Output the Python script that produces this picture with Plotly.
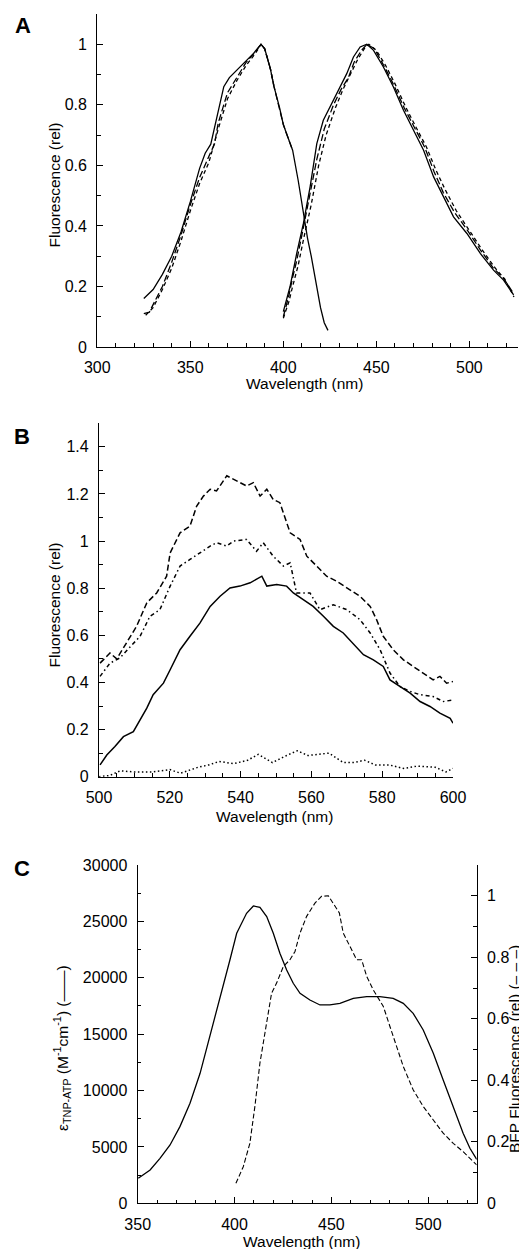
import plotly.graph_objects as go

# ---------------- Panel A data ----------------
a_ex_solid_x = [325, 330, 335, 340, 345, 350, 355, 358, 361, 365, 368, 371, 375, 380, 384, 388, 390, 393, 395, 398, 400, 402, 405, 408, 410, 413, 415, 418, 420, 422, 424]
a_ex_solid_y = [0.16, 0.19, 0.24, 0.30, 0.38, 0.48, 0.59, 0.64, 0.67, 0.78, 0.86, 0.89, 0.915, 0.945, 0.97, 1.0, 0.985, 0.92, 0.86, 0.79, 0.735, 0.70, 0.65, 0.55, 0.47, 0.36, 0.30, 0.19, 0.13, 0.08, 0.055]
a_ex_dash1_x = [325, 328, 330, 335, 340, 345, 350, 355, 360, 363, 365, 370, 375, 380, 385, 388, 390, 393, 395, 398, 400, 402, 405]
a_ex_dash1_y = [0.11, 0.115, 0.14, 0.20, 0.28, 0.37, 0.47, 0.56, 0.63, 0.67, 0.74, 0.84, 0.89, 0.94, 0.975, 1.0, 0.985, 0.92, 0.86, 0.79, 0.735, 0.70, 0.65]
a_ex_dash2_x = [326, 330, 335, 340, 345, 350, 355, 360, 365, 370, 375, 380, 385, 388, 390, 393, 395]
a_ex_dash2_y = [0.105, 0.13, 0.19, 0.26, 0.35, 0.45, 0.54, 0.61, 0.72, 0.82, 0.88, 0.93, 0.97, 1.0, 0.985, 0.92, 0.86]

a_em_solid_x = [400, 403.6, 407.2, 410.8, 414.4, 418, 421.5, 426.9, 430.5, 434.1, 437.7, 441.3, 444.9, 448.5, 453.8, 459.2, 464.6, 470, 475.4, 480.8, 486.1, 491.5, 498.7, 505.9, 513, 518.4, 523.8]
a_em_solid_y = [0.117, 0.199, 0.309, 0.408, 0.529, 0.672, 0.749, 0.815, 0.859, 0.903, 0.958, 0.991, 1.0, 0.98, 0.925, 0.859, 0.782, 0.716, 0.65, 0.562, 0.496, 0.43, 0.375, 0.309, 0.254, 0.221, 0.172]
a_em_dash1_x = [400, 403, 405, 407, 410, 414, 418, 422, 427, 431, 435, 438, 442, 445, 449, 454, 459, 465, 470, 476, 481, 486, 492, 499, 506, 513, 518, 524]
a_em_dash1_y = [0.10, 0.17, 0.23, 0.28, 0.37, 0.49, 0.62, 0.72, 0.80, 0.85, 0.89, 0.94, 0.98, 1.0, 0.985, 0.93, 0.87, 0.79, 0.73, 0.66, 0.58, 0.51, 0.445, 0.385, 0.32, 0.26, 0.23, 0.175]
a_em_dash2_x = [400, 403, 405, 408, 411, 415, 419, 423, 428, 432, 436, 440, 444, 446, 450, 455, 460, 466, 471, 477, 482, 487, 493, 500, 507, 514, 519, 524]
a_em_dash2_y = [0.095, 0.15, 0.20, 0.27, 0.36, 0.47, 0.60, 0.70, 0.79, 0.85, 0.90, 0.95, 0.99, 1.0, 0.98, 0.93, 0.87, 0.79, 0.73, 0.66, 0.585, 0.52, 0.45, 0.385, 0.32, 0.26, 0.225, 0.165]

# ---------------- Panel B data ----------------
b_solid_x = [500.3, 502.2, 504.5, 506.9, 509.7, 511.6, 513.5, 515.3, 518.2, 520.1, 522.9, 525.7, 528.5, 531.4, 534.2, 537, 539.8, 542.7, 546, 547.4, 550.2, 553, 554.9, 557.7, 560.5, 563.4, 566.2, 569, 571.8, 574.7, 577.5, 580.3, 582.2, 585, 587.9, 590.7, 593.5, 596.3, 599.2, 600]
b_solid_y = [0.05, 0.092, 0.128, 0.17, 0.191, 0.241, 0.291, 0.348, 0.397, 0.454, 0.539, 0.596, 0.652, 0.723, 0.766, 0.801, 0.809, 0.823, 0.851, 0.809, 0.816, 0.809, 0.78, 0.752, 0.723, 0.681, 0.638, 0.61, 0.567, 0.518, 0.496, 0.468, 0.411, 0.383, 0.355, 0.319, 0.298, 0.27, 0.248, 0.227]
b_dash_x = [500.3, 503.1, 505, 507.8, 510.6, 513.5, 516.3, 519.1, 520.1, 522.9, 525.7, 527.6, 529.5, 531.4, 533.2, 536.1, 538.9, 541.7, 543.6, 545.5, 547.4, 549.2, 551.1, 554, 556.8, 558.7, 561.5, 564.3, 567.1, 570.9, 573.7, 576.6, 578.4, 580.3, 583.1, 586, 588.8, 591.6, 594.4, 596.3, 598.2, 600]
b_dash_y = [0.482, 0.525, 0.50, 0.567, 0.638, 0.738, 0.78, 0.851, 0.95, 1.035, 1.064, 1.149, 1.191, 1.22, 1.213, 1.277, 1.255, 1.234, 1.248, 1.191, 1.22, 1.177, 1.163, 1.035, 1.007, 0.936, 0.894, 0.851, 0.83, 0.794, 0.766, 0.723, 0.667, 0.596, 0.539, 0.496, 0.468, 0.44, 0.411, 0.426, 0.397, 0.404]
b_dashdot_x = [500.3, 503.1, 505.9, 508.8, 511.6, 514.4, 517.2, 520.1, 522.9, 525.7, 528.5, 531.4, 533.2, 536.1, 538, 541.7, 544.5, 546.4, 549.2, 552.1, 554, 555.8, 559.6, 562.4, 566.2, 570, 573.7, 576.6, 579.4, 582.2, 585, 587.9, 590.7, 594.4, 597.3, 600]
b_dashdot_y = [0.426, 0.482, 0.504, 0.553, 0.596, 0.681, 0.709, 0.809, 0.894, 0.922, 0.95, 0.979, 0.993, 0.979, 1.0, 1.007, 0.957, 0.993, 0.936, 0.894, 0.908, 0.78, 0.78, 0.709, 0.73, 0.709, 0.667, 0.61, 0.539, 0.44, 0.383, 0.362, 0.348, 0.34, 0.319, 0.326]
b_dot_x = [500, 503, 506, 510, 515, 520, 523, 528, 531, 534, 538, 542, 545, 549, 553, 556, 559, 562, 565, 569, 572, 575, 578, 582, 586, 590, 595, 598, 600]
b_dot_y = [0.0, 0.005, 0.025, 0.02, 0.02, 0.03, 0.015, 0.04, 0.05, 0.065, 0.055, 0.07, 0.095, 0.06, 0.09, 0.11, 0.09, 0.095, 0.1, 0.06, 0.06, 0.07, 0.05, 0.05, 0.035, 0.045, 0.04, 0.02, 0.035]

# ---------------- Panel C data ----------------
c_abs_x = [350.3, 356.4, 361.5, 366.7, 371.8, 377, 382.2, 387.3, 392.5, 397.6, 401.1, 406.2, 409.7, 413.1, 416.6, 420, 423.4, 426.9, 430.3, 433.8, 438.9, 444.1, 449.2, 454.4, 461.3, 468.2, 475, 481.9, 487.1, 492.2, 497.4, 502.6, 507.7, 512.9, 518, 521.5, 525]
c_abs_y = [2217, 2956, 3990, 5173, 6799, 8868, 11528, 14780, 18327, 21579, 23944, 25717, 26368, 26250, 25422, 23944, 22170, 20692, 19510, 18623, 18032, 17588, 17588, 17736, 18179, 18327, 18327, 18179, 17736, 16849, 15371, 13302, 10937, 8572, 6208, 4877, 3900]
c_fl_x = [400.7, 404.5, 407.9, 410.5, 413.1, 416.6, 419.1, 421.7, 425.2, 428.6, 431.2, 433.8, 437.2, 441.5, 444.9, 448.4, 451, 454.1, 456.1, 459.6, 463, 465.6, 468.2, 471.6, 476.8, 480.2, 483.6, 487.1, 492.2, 497.4, 502.6, 507.7, 512.9, 518, 523.2, 525]
c_fl_y = [0.065, 0.119, 0.195, 0.315, 0.456, 0.597, 0.683, 0.716, 0.77, 0.792, 0.819, 0.879, 0.933, 0.976, 0.998, 1.0, 0.976, 0.944, 0.879, 0.835, 0.792, 0.792, 0.738, 0.694, 0.64, 0.575, 0.51, 0.445, 0.369, 0.315, 0.271, 0.228, 0.195, 0.168, 0.136, 0.125]

# ---------------- layout helpers ----------------
W, H = 519, 1249
FONT = "Liberation Sans, Arial, Helvetica, sans-serif"
TICK_SIZE = 16
TITLE_SIZE = 15.5


def px_x(p):
    return p / W


def px_y(p):
    return 1 - p / H


def dom_x(l, r):
    return [px_x(l), px_x(r)]


def dom_y(top, bottom):
    return [px_y(bottom), px_y(top)]


fig = go.Figure()
BLACK = "black"

def add(x, y, xa, ya, dash="solid", width=1.3):
    fig.add_trace(go.Scatter(x=x, y=y, mode="lines", xaxis=xa, yaxis=ya,
                             line=dict(color=BLACK, width=width, dash=dash),
                             showlegend=False, hoverinfo="skip"))

# Panel A
add(a_ex_solid_x, a_ex_solid_y, "x", "y")
add(a_ex_dash1_x, a_ex_dash1_y, "x", "y", "7px,3px")
add(a_ex_dash2_x, a_ex_dash2_y, "x", "y", "4px,3px")
add(a_em_solid_x, a_em_solid_y, "x", "y")
add(a_em_dash1_x, a_em_dash1_y, "x", "y", "7px,3px")
add(a_em_dash2_x, a_em_dash2_y, "x", "y", "4px,3px")

# Panel B
add(b_dash_x, b_dash_y, "x2", "y2", "6px,3px", 1.5)
add(b_dashdot_x, b_dashdot_y, "x2", "y2", "4px,3px,1.5px,3px", 1.5)
add(b_solid_x, b_solid_y, "x2", "y2", "solid", 1.5)
add(b_dot_x, b_dot_y, "x2", "y2", "1.5px,2.5px", 1.5)

# Panel C
add(c_abs_x, c_abs_y, "x3", "y3", "solid", 1.3)
add(c_fl_x, c_fl_y, "x3", "y4", "5px,2.5px", 1.1)

tickfont = dict(family=FONT, size=TICK_SIZE, color=BLACK)


def axis(domain, rng, dtick, minor_dtick, anchor, tick0=None, side=None, fmt=None, overlaying=None):
    d = dict(domain=domain, range=rng, dtick=dtick, tick0=tick0 if tick0 is not None else rng[0],
             ticks="inside", ticklen=6, tickwidth=1.2, tickcolor=BLACK,
             showline=True, linecolor=BLACK, linewidth=1.3, showgrid=False, zeroline=False,
             tickfont=tickfont, anchor=anchor, automargin=False,
             minor=dict(ticks="inside", ticklen=3.5, dtick=minor_dtick, tickwidth=1.2,
                        tickcolor=BLACK, showgrid=False),
             ticklabelstandoff=6, fixedrange=True)
    if side:
        d["side"] = side
    if fmt:
        d["tickformat"] = fmt
    if overlaying:
        d["overlaying"] = overlaying
    return d


fig.update_layout(
    template="none",
    width=W, height=H, autosize=False,
    margin=dict(l=0, r=0, t=0, b=0, pad=0),
    paper_bgcolor="white", plot_bgcolor="rgba(0,0,0,0)",
    font=dict(family=FONT, color=BLACK),
    showlegend=False,
    xaxis=axis(dom_x(97.3, 517.7), [300, 526], 50, 10, "y", tick0=300),
    yaxis=axis(dom_y(14, 347), [0, 1.1], 0.2, 0.1, "x", tick0=0),
    xaxis2=axis(dom_x(99, 453), [500, 600], 20, 5, "y2", tick0=500),
    yaxis2=axis(dom_y(423.3, 776.7), [0, 1.5], 0.2, 0.1, "x2", tick0=0),
    xaxis3=axis(dom_x(137.7, 476.7), [350, 525], 50, 10, "y3", tick0=350),
    yaxis3=axis(dom_y(865, 1203.3), [0, 30000], 5000, 2500, "x3", tick0=0, fmt="d"),
    yaxis4=axis(dom_y(865, 1203.3), [0, 1.1], 0.2, 0.1, "x3", tick0=0, side="right", overlaying="y3"),
)

ann = []

def text(t, x, y, size=TITLE_SIZE, angle=0, bold=False):
    ann.append(dict(text=f"<b>{t}</b>" if bold else t, x=px_x(x), y=px_y(y), xref="paper", yref="paper",
                    showarrow=False, xanchor="center", yanchor="middle", textangle=angle,
                    font=dict(family=FONT, size=size, color=BLACK)))

# panel letters
text("A", 22.5, 25, 22, bold=True)
text("B", 21.5, 436.5, 22, bold=True)
text("C", 21.5, 868, 22, bold=True)

# axis titles
text("Wavelength (nm)", 304, 383)
text("Fluorescence (rel)", 53.5, 185, angle=-90)
text("Wavelength (nm)", 274, 816)
text("Fluorescence (rel)", 53.5, 605, angle=-90)
text("Wavelength (nm)", 301, 1241)
text("ε<sub>TNP-ATP</sub> (M<sup>-1</sup>cm<sup>-1</sup>) (——)", 62, 1048, angle=-90)
text("BFP Fluorescence (rel) (– – –)", 514, 1049, angle=-90)

fig.update_layout(annotations=ann)

fig.write_html("out.html", config={"responsive": False, "displayModeBar": False},
               post_script="document.body.style.margin='0';document.body.style.overflow='hidden';")
